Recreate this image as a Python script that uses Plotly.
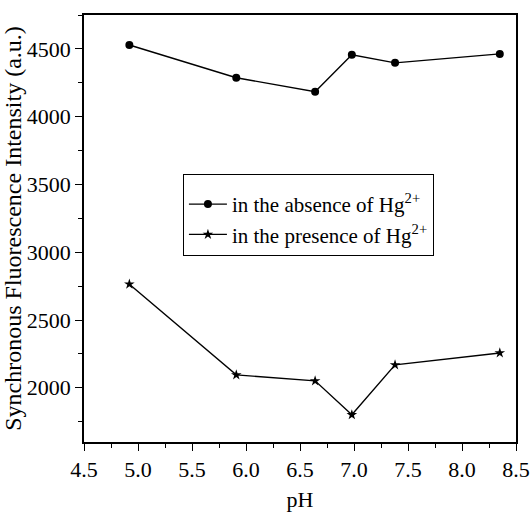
import plotly.graph_objects as go

ph = [4.92, 5.91, 6.64, 6.98, 7.38, 8.35]
absence = [4529, 4287, 4184, 4456, 4397, 4463]
presence = [2764, 2095, 2051, 1801, 2169, 2257]

x_ticks = [4.5, 5.0, 5.5, 6.0, 6.5, 7.0, 7.5, 8.0, 8.5]
y_ticks = [2000, 2500, 3000, 3500, 4000, 4500]

font_family = "Liberation Serif"

fig = go.Figure()
fig.add_trace(go.Scatter(
    x=ph, y=absence, mode="lines+markers",
    name="in the absence of Hg<sup>2+</sup>",
    line=dict(color="black", width=1.4),
    marker=dict(symbol="circle", size=8, color="black"),
))
fig.add_trace(go.Scatter(
    x=ph, y=presence, mode="lines+markers",
    name="in the presence of Hg<sup>2+</sup>",
    line=dict(color="black", width=1.4),
    marker=dict(symbol="star", size=8, color="black"),
))

fig.update_layout(
    width=530, height=521,
    margin=dict(l=84, r=14, t=15, b=79),
    paper_bgcolor="white", plot_bgcolor="white",
    font=dict(family=font_family, size=21, color="black"),
    legend=dict(
        x=0.229, y=0.628, xanchor="left", yanchor="top",
        bordercolor="black", borderwidth=1, bgcolor="white",
        font=dict(family=font_family, size=21, color="black"),
        title=dict(text=" ", font=dict(size=7)),
        itemwidth=38, tracegroupgap=7,
    ),
)

fig.update_xaxes(
    range=[4.5, 8.5], tickmode="array", tickvals=x_ticks,
    ticktext=[f"{v:.1f}" for v in x_ticks],
    showline=True, linecolor="black", linewidth=1.6, mirror=True,
    ticks="outside", ticklen=7, tickwidth=1.3, tickcolor="black",
    showgrid=False, zeroline=False, automargin=False,
    tickfont=dict(family=font_family, size=22, color="black"),
    minor=dict(ticks="outside", ticklen=4, dtick=0.25, tickcolor="black", tickwidth=1.2),
    title=dict(text="pH", font=dict(family=font_family, size=22), standoff=10),
)
fig.update_yaxes(
    range=[1600, 4750], tickmode="array", tickvals=y_ticks,
    showline=True, linecolor="black", linewidth=1.6, mirror=True,
    ticks="outside", ticklen=7, tickwidth=1.3, tickcolor="black",
    showgrid=False, zeroline=False, automargin=False,
    tickfont=dict(family=font_family, size=22, color="black"),
    minor=dict(ticks="outside", ticklen=4, dtick=250, tickcolor="black", tickwidth=1.2),
    title=dict(text="Synchronous Fluorescence Intensity (a.u.)",
               font=dict(family=font_family, size=24), standoff=2),
)

fig.write_html("out.html")
